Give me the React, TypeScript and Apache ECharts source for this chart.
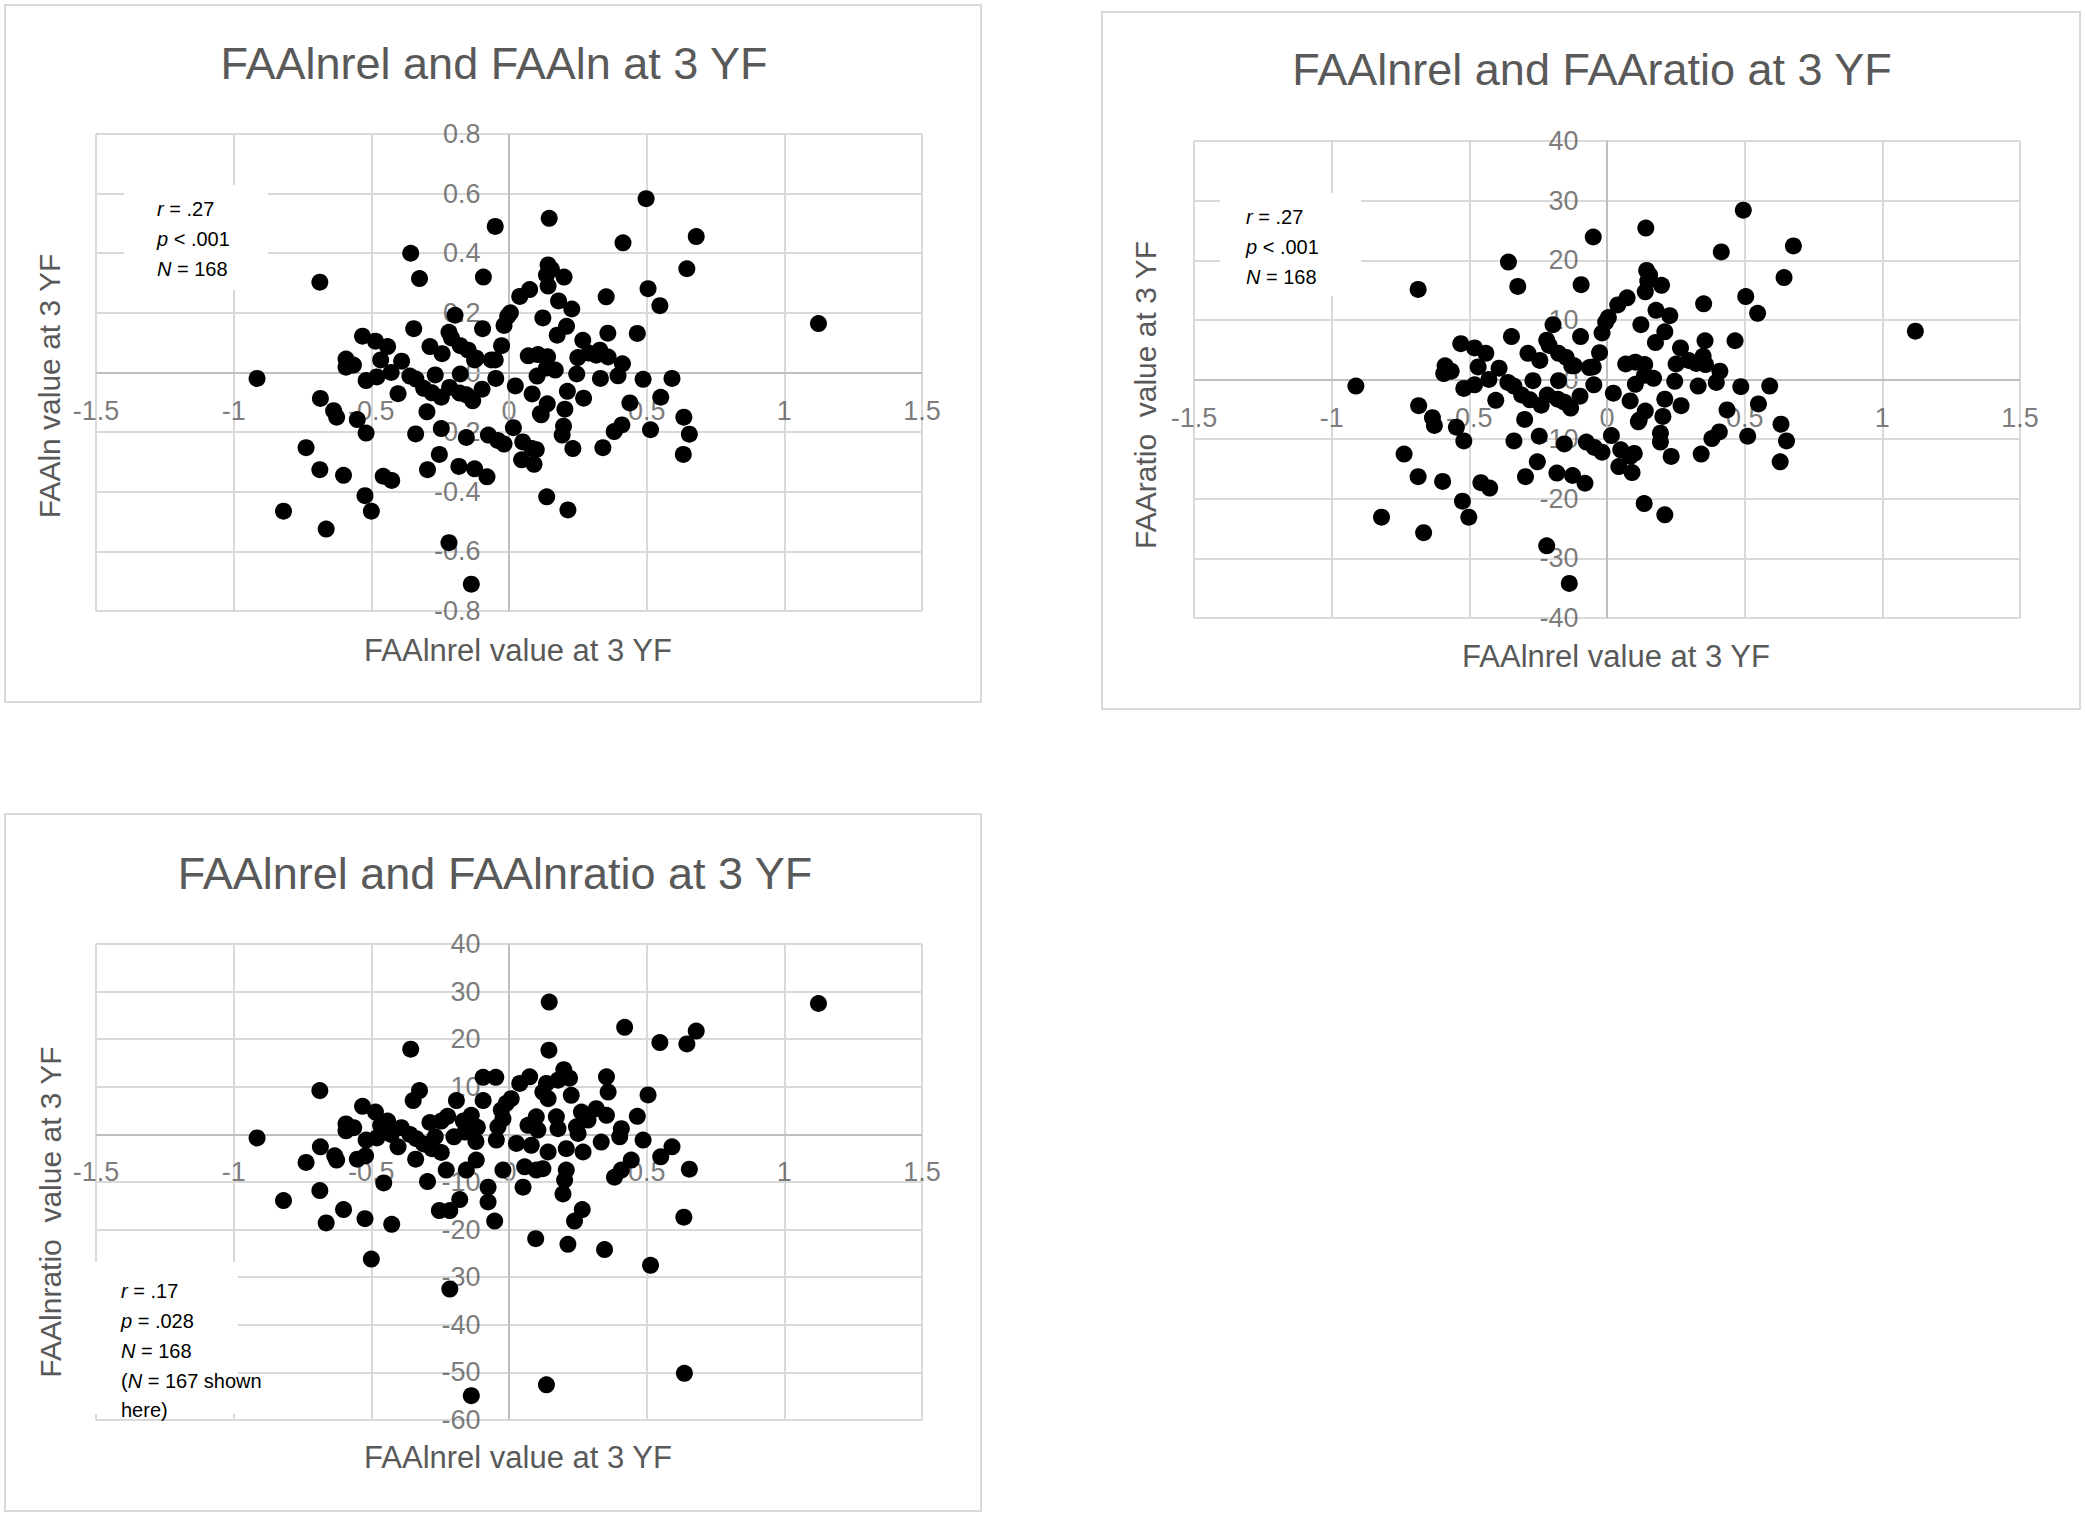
import React, { useEffect, useRef } from "react";
import * as echarts from "echarts";

// ---------- DATA ----------
const titles = [
  "FAAlnrel and FAAln at 3 YF",
  "FAAlnrel and FAAratio at 3 YF",
  "FAAlnrel and FAAlnratio at 3 YF",
];
const xNames = ["FAAlnrel value at 3 YF", "FAAlnrel value at 3 YF", "FAAlnrel value at 3 YF"];
const yNames = ["FAAln value at 3 YF", "FAAratio  value at 3 YF", "FAAlnratio  value at 3 YF"];

const xTicks = [-1.5, -1, -0.5, 0, 0.5, 1, 1.5];
const yTicks1 = [-0.8, -0.6, -0.4, -0.2, 0, 0.2, 0.4, 0.6, 0.8];
const yTicks2 = [-40, -30, -20, -10, 0, 10, 20, 30, 40];
const yTicks3 = [-60, -50, -40, -30, -20, -10, 0, 10, 20, 30, 40];

const stats1 = [["r", " = .27"], ["p", " < .001"], ["N", " = 168"]];
const stats2 = [["r", " = .27"], ["p", " < .001"], ["N", " = 168"]];
const stats3 = [["r", " = .17"], ["p", " = .028"], ["N", " = 168"], ["(", "N", " = 167 shown"], ["", "here)"]];

// FAAlnrel (x) vs FAAln (y)
const ptsLn: number[][] = [
  [0.498,0.583],[0.146,0.517],[-0.05,0.49],[0.68,0.456],[0.414,0.435],[-0.357,0.40],
  [0.142,0.361],[0.154,0.346],[0.136,0.327],[0.20,0.32],[0.142,0.29],
  [0.646,0.348],[-0.687,0.303],[-0.325,0.315],[-0.093,0.32],[0.505,0.281],[0.075,0.278],[0.039,0.255],
  [0.353,0.254],[0.548,0.224],[0.18,0.24],[0.228,0.213],[0.005,0.2],[-0.005,0.188],[-0.196,0.192],
  [0.123,0.183],[1.124,0.164],[-0.346,0.147],[-0.096,0.147],[-0.018,0.158],[0.209,0.155],[0.359,0.132],
  [0.466,0.131],[0.175,0.125],[-0.218,0.135],[-0.209,0.116],[-0.532,0.122],[0.268,0.108],[-0.485,0.105],
  [-0.441,0.087],[-0.287,0.087],[-0.177,0.09],[-0.148,0.075],[-0.027,0.09],
  [0.33,0.075],[0.29,0.065],[0.317,0.058],[0.36,0.052],[0.25,0.05],
  [-0.243,0.063],[-0.592,0.045],[-0.466,0.042],[-0.39,0.038],[-0.125,0.042],[-0.05,0.042],[0.07,0.056],
  [0.105,0.06],[0.14,0.053],[0.412,0.029],[-0.592,0.018],[-0.565,0.025],[-0.428,0],[-0.915,-0.02],
  [-0.519,-0.027],[-0.48,-0.015],[-0.36,-0.012],[-0.338,-0.022],[-0.268,-0.008],[-0.177,-0.005],
  [-0.048,-0.02],[0.102,-0.012],[0.168,0.008],[0.246,-0.005],[0.332,-0.02],[0.396,-0.011],[0.487,-0.023],
  [0.592,-0.02],[-0.31,-0.053],[-0.28,-0.068],[-0.216,-0.05],[-0.246,-0.083],[-0.155,-0.075],
  [-0.132,-0.095],[-0.098,-0.056],[0.023,-0.045],[-0.403,-0.071],[0.084,-0.072],[0.212,-0.063],
  [0.271,-0.086],[0.139,-0.105],[0.551,-0.083],[0.439,-0.102],[-0.685,-0.087],[-0.637,-0.128],
  [-0.626,-0.15],[-0.551,-0.158],[-0.519,-0.203],[-0.298,-0.132],[0.114,-0.138],[0.203,-0.123],
  [0.635,-0.15],[-0.246,-0.188],[-0.155,-0.218],[-0.339,-0.206],[0.016,-0.185],[-0.075,-0.21],
  [-0.041,-0.228],[-0.018,-0.24],[0.198,-0.18],[0.193,-0.21],[0.382,-0.198],[0.41,-0.176],[0.514,-0.192],
  [0.655,-0.207],[0.05,-0.233],[0.084,-0.255],[-0.737,-0.252],[0.232,-0.255],[0.341,-0.252],
  [-0.253,-0.275],[0.046,-0.293],[0.091,-0.308],[0.633,-0.275],[-0.687,-0.326],[-0.601,-0.345],
  [-0.296,-0.326],[-0.182,-0.315],[-0.125,-0.323],[-0.08,-0.35],[-0.457,-0.348],[-0.426,-0.362],
  [-0.523,-0.413],[-0.5,-0.465],[0.137,-0.417],[-0.819,-0.465],[0.214,-0.461],[-0.664,-0.525],
  [-0.218,-0.571],[-0.137,-0.71],
  [-0.064,0.042],[-0.119,0.048],[0.136,0.015],[-0.179,-0.069],[0.117,-0.142],[0.099,-0.259],
];

// FAAlnrel (x) vs FAAratio (y)
const ptsRatio: number[][] = [
  [0.495,28.4],[0.141,25.4],[-0.05,23.9],[0.677,22.4],[0.415,21.4],[-0.358,19.7],
  [0.144,18.3],[0.155,17.5],[0.148,16.5],[0.198,15.8],[0.139,14.7],
  [0.643,17.1],[-0.686,15.1],[-0.324,15.6],[-0.094,15.9],[0.504,13.9],[0.073,13.7],[0.039,12.5],
  [0.351,12.7],[0.547,11.1],[0.178,11.6],[0.228,10.7],[0.005,10.4],[-0.005,9.6],[-0.196,9.2],
  [0.123,9.2],[1.12,8.1],[-0.347,7.2],[-0.096,7.2],[-0.018,7.8],[0.21,8.0],[0.356,6.5],[0.465,6.5],
  [0.176,6.2],[-0.219,6.6],[-0.21,5.7],[-0.531,6.0],[0.267,5.3],[-0.481,5.3],[-0.44,4.4],[-0.287,4.4],
  [-0.176,4.4],[-0.148,3.7],[-0.027,4.5],
  [0.349,3.9],[0.296,3.2],[0.324,2.7],[0.358,2.5],[0.251,2.6],
  [-0.244,3.2],[-0.588,2.3],[-0.593,1.0],[-0.566,1.4],[-0.468,2.1],[-0.392,1.9],[-0.128,2.3],
  [-0.05,2.1],[0.068,2.6],[0.103,2.9],[0.137,2.5],[0.41,1.4],[-0.429,0],[-0.912,-1.1],[-0.52,-1.5],
  [-0.481,-0.9],[-0.36,-0.5],[-0.338,-1.1],[-0.269,-0.2],[-0.176,-0.2],[-0.048,-0.9],[0.103,-0.8],
  [0.169,0.2],[0.246,-0.3],[0.331,-1.1],[0.397,-0.5],[0.486,-1.2],[0.591,-1.1],
  [-0.31,-2.6],[-0.28,-3.4],[-0.217,-2.6],[-0.239,-4.3],[-0.155,-3.8],[-0.132,-4.8],[-0.098,-2.8],
  [0.023,-2.3],[-0.404,-3.5],[0.084,-3.6],[0.21,-3.3],[0.269,-4.4],[0.139,-5.3],[0.55,-4.1],
  [0.436,-5.1],[-0.684,-4.4],[-0.634,-6.4],[-0.627,-7.7],[-0.547,-8.0],[-0.52,-10.3],[-0.299,-6.7],
  [0.114,-7.1],[0.203,-6.2],[0.632,-7.5],[-0.246,-9.5],[-0.155,-10.8],[-0.338,-10.3],[0.016,-9.4],
  [-0.075,-10.5],[-0.046,-11.4],[-0.018,-12.2],[0.194,-9.0],[0.194,-10.5],[0.381,-9.9],[0.408,-8.8],
  [0.511,-9.5],[0.652,-10.3],[0.05,-11.8],[0.084,-12.9],[-0.737,-12.5],[0.233,-12.9],[0.342,-12.5],
  [-0.253,-13.8],[0.043,-14.6],[0.091,-15.6],[0.629,-13.8],[-0.686,-16.3],[-0.597,-17.1],
  [-0.296,-16.3],[-0.182,-15.7],[-0.125,-16.1],[-0.08,-17.4],[-0.458,-17.3],[-0.426,-18.2],
  [-0.525,-20.4],[-0.502,-23.1],[0.135,-20.8],[-0.819,-23.1],[0.21,-22.7],[-0.666,-25.7],
  [-0.219,-27.9],[-0.137,-34.2],
  [-0.064,2.0],[-0.119,2.3],[0.136,0.7],[-0.179,-3.3],[0.117,-6.8],[0.099,-12.4],
];

// FAAlnrel (x) vs FAAlnratio (y)
const ptsLnRatio: number[][] = [
  [1.124,27.5],[0.146,27.8],[0.42,22.5],[0.68,21.7],[0.548,19.3],[0.646,19.0],[-0.357,17.9],[0.145,17.7],
  [0.199,13.6],[0.22,11.8],[0.178,11.4],[-0.094,12.0],[-0.048,12.0],[0.075,12.1],[0.039,10.7],
  [0.354,12.1],[0.36,8.9],[0.136,10.7],[0.123,8.9],[0.142,7.5],[0.226,8.2],[-0.094,7.1],[-0.191,7.1],
  [0.008,7.5],[-0.01,6.5],[-0.028,5.1],[-0.022,3.3],[-0.04,1.6],[-0.046,-1.2],
  [-0.687,9.2],[-0.325,9.2],[-0.348,7.1],[0.505,8.3],[-0.532,5.9],[0.466,3.8],[-0.485,4.7],
  [-0.441,2.8],[-0.466,1.9],
  [0.263,4.7],[0.317,5.4],[0.354,4.0],[0.287,3.0],[0.245,1.6],[0.251,0.2],
  [-0.223,3.8],[-0.246,2.8],[-0.287,2.5],[-0.166,2.8],[-0.137,4.0],[-0.115,1.5],[-0.16,0.5],
  [-0.2,-0.5],[-0.12,-1.5],
  [0.099,3.7],[0.069,1.9],[0.172,3.7],[0.178,1.2],[0.105,0.9],[0.081,-2.3],
  [-0.592,2.2],[-0.564,1.4],[-0.592,0.75],[-0.391,1.4],[0.408,1.2],[0.402,-0.5],
  [-0.428,0],[-0.36,0],[-0.337,-0.9],[-0.268,-0.5],[-0.915,-0.75],[-0.519,-1.2],[-0.48,-0.75],
  [0.027,-1.9],[0.335,-1.6],[0.487,-1.2],[0.592,-2.6],[0.551,-4.7],[0.208,-3.0],[0.269,-3.7],
  [0.142,-3.7],[-0.31,-2.0],[-0.28,-3.0],[-0.246,-3.8],
  [-0.403,-2.6],[-0.685,-2.6],[-0.737,-5.9],[-0.633,-4.5],[-0.626,-5.4],[-0.551,-5.2],[-0.521,-4.5],
  [-0.339,-5.2],[0.444,-5.4],[0.408,-7.5],[0.383,-9.0],[-0.119,-5.4],[-0.155,-7.5],[-0.228,-7.5],
  [-0.022,-7.5],[0.057,-6.8],[0.099,-7.5],[0.123,-7.2],[0.655,-7.3],[0.051,-11.1],[0.208,-7.5],
  [0.202,-9.6],[0.196,-12.5],[-0.076,-11.1],[-0.076,-14.2],[-0.179,-13.7],[-0.215,-16.0],
  [-0.253,-16.0],[-0.296,-9.9],[-0.455,-10.2],[-0.687,-11.8],[-0.819,-13.9],[-0.601,-15.8],
  [0.266,-15.8],[0.238,-18.2],[-0.052,-18.2],[-0.523,-17.7],[-0.664,-18.6],[-0.426,-18.9],
  [0.635,-17.4],[0.097,-21.9],[0.214,-23.1],[0.347,-24.2],[-0.5,-26.2],[0.514,-27.5],
  [-0.215,-32.5],[0.637,-50.2],[0.136,-52.6],[-0.137,-54.9],
];

// ---------- LAYOUT ----------
const FONT = "'Liberation Sans', Arial, sans-serif";
const GREY = "#595959";

const panels = [
  {
    pts: ptsLn, yTicks: yTicks1, box: [5, 5, 976, 697], grid: { left: 96, top: 134, width: 826, height: 477 },
    titleXY: [494, 63], xNameXY: [518, 650], yNameXY: [49, 386],
    note: { rect: [124, 185, 144, 105], x: 157, ys: [209, 239, 269], lines: stats1 },
  },
  {
    pts: ptsRatio, yTicks: yTicks2, box: [1102, 12, 978, 697], grid: { left: 1194, top: 141, width: 826, height: 477 },
    titleXY: [1592, 69], xNameXY: [1616, 656], yNameXY: [1145, 395],
    note: { rect: [1220, 193, 141, 103], x: 1246, ys: [217, 247, 277], lines: stats2 },
  },
  {
    pts: ptsLnRatio, yTicks: yTicks3, box: [5, 814, 976, 697], grid: { left: 96, top: 944, width: 826, height: 476 },
    titleXY: [495, 873], xNameXY: [518, 1457], yNameXY: [50, 1212],
    note: { rect: [90, 1262, 148, 152], x: 121, ys: [1291, 1321, 1351, 1381, 1410], lines: stats3 },
  },
];

function noteText(parts: string[]) {
  if (parts.length === 2) return (parts[0] ? "{i|" + parts[0] + "}" : "") + "{n|" + parts[1] + "}";
  return "{n|" + parts[0] + "}{i|" + parts[1] + "}{n|" + parts[2] + "}";
}

const fmt = (v: number) => String(Math.round(v * 1000) / 1000);

function buildOption() {
  const grids: any[] = [];
  const xAxes: any[] = [];
  const yAxes: any[] = [];
  const series: any[] = [];
  const graphics: any[] = [];

  panels.forEach((p, i) => {
    const yt = p.yTicks;
    grids.push({ ...p.grid, containLabel: false });
    const axisCommon = {
      type: "value",
      gridIndex: i,
      axisTick: { show: false },
      axisLabel: { show: false },
      axisLine: { show: false },
      splitLine: { show: true, showMinLine: true, showMaxLine: true, lineStyle: { color: "#d9d9d9", width: 2 } },
    };
    xAxes.push({ ...axisCommon, min: xTicks[0], max: xTicks[xTicks.length - 1], interval: xTicks[1] - xTicks[0] });
    yAxes.push({ ...axisCommon, min: yt[0], max: yt[yt.length - 1], interval: Math.round((yt[1] - yt[0]) * 1000) / 1000 });

    // zero axis lines
    series.push({
      type: "scatter",
      xAxisIndex: i,
      yAxisIndex: i,
      data: [],
      silent: true,
      markLine: {
        silent: true,
        symbol: ["none", "none"],
        label: { show: false },
        lineStyle: { color: "#bfbfbf", width: 2, type: "solid" },
        data: [{ xAxis: 0 }, { yAxis: 0 }],
      },
      z: 1,
    });
    // x tick labels sitting below the y=0 line
    series.push({
      type: "scatter",
      xAxisIndex: i,
      yAxisIndex: i,
      silent: true,
      symbolSize: 1,
      itemStyle: { color: "rgba(0,0,0,0)" },
      data: xTicks.map((v) => [v, 0]),
      label: {
        show: true,
        position: "bottom",
        distance: 24,
        formatter: (d: any) => fmt(d.value[0]),
        color: GREY,
        fontSize: 27,
        fontFamily: FONT,
      },
      labelLayout: { hideOverlap: false },
      z: 3,
    });
    // y tick labels left of the x=0 line
    series.push({
      type: "scatter",
      xAxisIndex: i,
      yAxisIndex: i,
      silent: true,
      symbolSize: 1,
      itemStyle: { color: "rgba(0,0,0,0)" },
      data: yt.map((v) => [0, v]),
      label: {
        show: true,
        position: "left",
        distance: 28,
        formatter: (d: any) => fmt(d.value[1]),
        color: GREY,
        fontSize: 27,
        fontFamily: FONT,
      },
      z: 3,
    });
    // data points
    series.push({
      type: "scatter",
      xAxisIndex: i,
      yAxisIndex: i,
      data: p.pts,
      symbol: "circle",
      symbolSize: 17,
      itemStyle: { color: "#000", opacity: 1 },
      z: 5,
    });

    graphics.push({
      type: "rect",
      shape: { x: p.box[0], y: p.box[1], width: p.box[2], height: p.box[3] },
      style: { fill: "none", stroke: "#d9d9d9", lineWidth: 2 },
      z: 1,
    });
    graphics.push({
      type: "text",
      x: p.titleXY[0], y: p.titleXY[1],
      style: { text: titles[i], fill: GREY, fontSize: 45, fontFamily: FONT, align: "center", verticalAlign: "middle" },
      z: 10,
    });
    graphics.push({
      type: "text",
      x: p.xNameXY[0], y: p.xNameXY[1],
      style: { text: xNames[i], fill: GREY, fontSize: 31, fontFamily: FONT, align: "center", verticalAlign: "middle" },
      z: 10,
    });
    graphics.push({
      type: "text",
      x: p.yNameXY[0], y: p.yNameXY[1], rotation: Math.PI / 2,
      style: { text: yNames[i], fill: GREY, fontSize: 30, fontFamily: FONT, align: "center", verticalAlign: "middle" },
      z: 10,
    });
    const n = p.note;
    graphics.push({
      type: "rect",
      shape: { x: n.rect[0], y: n.rect[1], width: n.rect[2], height: n.rect[3] },
      style: { fill: "#ffffff" },
      z: 3,
    });
    n.lines.forEach((ln, k) => {
      graphics.push({
        type: "text",
        x: n.x, y: n.ys[k],
        style: {
          text: noteText(ln as string[]),
          fill: "#000",
          fontSize: 20,
          fontFamily: FONT,
          align: "left",
          verticalAlign: "middle",
          rich: {
            i: { fontStyle: "italic", fontSize: 20, fontFamily: FONT, fill: "#000" },
            n: { fontSize: 20, fontFamily: FONT, fill: "#000" },
          },
        },
        z: 11,
      });
    });
  });

  return {
    animation: false,
    backgroundColor: "#ffffff",
    grid: grids,
    xAxis: xAxes,
    yAxis: yAxes,
    series,
    graphic: { elements: graphics },
  };
}

export default function App() {
  const ref = useRef<HTMLDivElement>(null);
  useEffect(() => {
    if (!ref.current) return;
    const chart = echarts.init(ref.current, null, { renderer: "svg" });
    chart.setOption(buildOption() as any);
    return () => chart.dispose();
  }, []);
  return (
    <div
      ref={ref}
      style={{ position: "absolute", left: 0, top: 0, width: 2085, height: 1517, background: "#fff" }}
    />
  );
}
